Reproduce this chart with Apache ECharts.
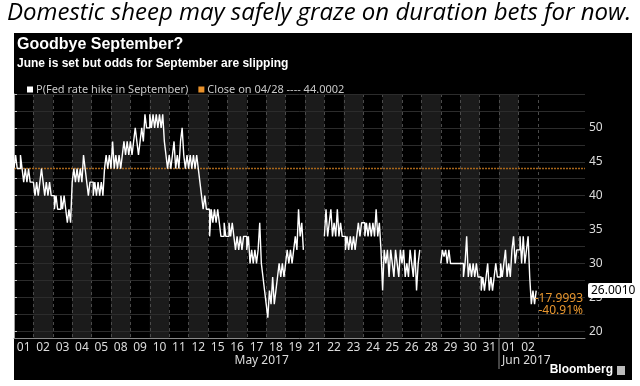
<!DOCTYPE html>
<html>
<head>
<meta charset="utf-8">
<script src="https://cdn.jsdelivr.net/npm/echarts@6/dist/echarts.min.js"></script>
<style>
  html, body { margin: 0; padding: 0; background: #fff; }
  #wrap { position: relative; width: 640px; height: 386px; }
  #panel { position: absolute; left: 14px; top: 33px; width: 618px; height: 347px; background: #000; }
  #chart { position: absolute; left: 0; top: 0; width: 640px; height: 386px; }
</style>
</head>
<body>
<div id="wrap">
  <div id="panel"></div>
  <div id="chart"></div>
</div>
<script>
// ---- data ----
const headline = 'Domestic sheep may safely graze on duration bets for now.';
const chartTitle = 'Goodbye September?';
const chartSubtitle = 'June is set but odds for September are slipping';
const seriesName = 'P(Fed rate hike in September)';
const dayLabels = ['01','02','03','04','05','08','09','10','11','12','15','16','17','18','19','21','22','23','24','25','26','28','29','30','31','01','02'];
const monthLabels = ['May 2017', 'Jun 2017'];
const closeValue = 44.0002;
const closeLabel = 'Close on 04/28';
const changeLabels = ['-17.9993', '-40.91%'];
const yTickLabels = [20, 25, 30, 35, 40, 45, 50];
const yTickMarks = [20, 22.5, 25, 27.5, 30, 32.5, 35, 37.5, 40, 42.5, 45, 47.5, 50, 52.5, 55];
// intraday readings of the probability (%) for each trading day; null = no data
const may01 = [44, 46, 44, 44, 46, 44, 42, 44, 42, 44, 42, 42];
const may02 = [42, 40, 42, 40, 42, 44, 42, 40, 42, 40, 42, 40];
const may03 = [40, 38, 40, 38, 38, 40, 38, 40, 38, 36, 38, 36];
const may04 = [42, 44, 42, 44, 42, 44, 42, 46, 44, 42, 40, 42];
const may05 = [42, 40, 42, 40, 42, 40, 42, 40, 44, 46, 44, 46];
const may08 = [44, 48, 44, 46, 44, 46, 44, 46, 48, 46, 48, 46];
const may09 = [48, 46, 48, 50, 48, 46, 48, 50, 48, 52, 50, 50];
const may10 = [52, 50, 52, 50, 52, 50, 52, 50, 52, 48, 46, 44];
const may11 = [46, 44, 46, 48, 44, 46, 44, 48, 50, 46, 44, 46];
const may12 = [44, 46, 44, 46, 44, 46, 44, 42, 40, 38, 40, 38];
const may15 = [38, 34, 38, 36, 38, 36, 38, 36, 34, 34, 36, 34];
const may16 = [34, 36, 34, 36, 34, 32, 34, 32, 34, 32, 34, 34];
const may17 = [32, 34, 30, 32, 30, 32, 30, 32, 36, 30, 28, 26];
const may18 = [24, 22, 26, 24, 28, 24, 26, 28, 30, 28, 30, 28];
const may19 = [30, 32, 30, 32, 30, 32, 34, 32, 38, 34, 36, 32];
const may21 = null;
const may22 = [34, 38, 34, 36, 38, 34, 36, 34, 38, 34, 36, 34];
const may23 = [34, 32, 34, 32, 34, 32, 34, 32, 34, 36, 34, 36];
const may24 = [36, 34, 36, 34, 36, 34, 36, 34, 38, 34, 36, 32];
const may25 = [26, 32, 30, 32, 28, 32, 30, 28, 32, 30, 28, 32];
const may26 = [30, 32, 28, 30, 28, 32, 30, 28, 32, 26, 30, 32];
const may28 = null;
const may29 = [30, 32, 31, 32, 30, 32, 30, 30, 30, 30, 30, 30];
const may30 = [30, 30, 28, 30, 34, 28, 30, 28, 30, 28, 30, 28];
const may31 = [28, 26, 28, 26, 28, 30, 26, 28, 26, 28, 30, 28];
const jun01 = [28, 30, 28, 30, 32, 28, 30, 28, 32, 34, 30, 32];
const jun02 = [32, 34, 30, 34, 30, 32, 34, 28, 24, 26, 24, 26.0010];
const dayValues = [may01, may02, may03, may04, may05, may08, may09, may10, may11, may12,
  may15, may16, may17, may18, may19, may21, may22, may23, may24, may25, may26, may28,
  may29, may30, may31, jun01, jun02];

// ---- build ----
const points = [];
let lastX = 0;
dayValues.forEach((vals, d) => {
  if (!vals) { points.push([lastX + 0.001, '-']); return; }
  vals.forEach((v, j) => { lastX = d + j / vals.length; points.push([lastX, v]); });
});
const lastValue = jun02[jun02.length - 1];

const L = 14, AXIS_X = 585, TOP = 94, BOTTOM_Y = 338;
const DAY_W = 19.4;
const nDays = dayLabels.length;
const xMax = (AXIS_X - L) / DAY_W;
const FONT = 'Noto Sans';

const chart = echarts.init(document.getElementById('chart'), null, { renderer: 'canvas' });
chart.setOption({
  backgroundColor: 'transparent',
  animation: false,
  title: [
    { text: headline, left: 7, top: 1, padding: 0, textStyle: { fontFamily: 'Open Sans', fontStyle: 'italic', fontWeight: 'normal', fontSize: 24, color: '#000' } },
    { text: chartTitle, left: 17, top: 37, padding: 0, textStyle: { fontFamily: 'Liberation Sans', fontWeight: 'bold', fontSize: 16, color: '#fff' } },
    { text: chartSubtitle, left: 17, top: 58, padding: 0, textStyle: { fontFamily: 'Liberation Sans', fontWeight: 'bold', fontSize: 12, color: '#fff' } }
  ],
  legend: {
    left: 22, top: 79, icon: 'rect', itemWidth: 6, itemHeight: 6, itemGap: 10,
    textStyle: { color: '#c8c8c8', fontSize: 11, fontFamily: FONT, padding: [0, 0, 0, -2] },
    data: [seriesName, closeLabel + ' ---- ' + closeValue.toFixed(4)]
  },
  grid: [
    { left: L, right: 640 - AXIS_X, top: TOP, bottom: 386 - BOTTOM_Y },
    { left: L, width: nDays * DAY_W, top: TOP, bottom: 386 - BOTTOM_Y }
  ],
  xAxis: [
    { type: 'value', gridIndex: 0, min: 0, max: xMax, z: 2,
      axisLine: { show: true, lineStyle: { color: '#8a8a8a', width: 1 } },
      axisTick: { show: false }, axisLabel: { show: false }, splitLine: { show: false } },
    { type: 'category', gridIndex: 1, data: dayLabels, boundaryGap: true, z: 0,
      axisLine: { show: false }, axisTick: { show: false },
      axisLabel: { interval: 0, color: '#dcdcdc', fontSize: 12, fontFamily: FONT, margin: 4 },
      splitLine: { show: true, interval: 0, lineStyle: { color: '#4a4a4a', type: [3, 3], width: 1 } },
      splitArea: { show: true, interval: 0, areaStyle: { color: ['rgba(0,0,0,0)', '#1b1b1b'] } } }
  ],
  yAxis: [
    { type: 'value', gridIndex: 0, position: 'right', min: 19, max: 55, splitNumber: 7, z: 1,
      axisLine: { show: true, lineStyle: { color: '#a0a0a0', width: 1 } },
      axisTick: { show: true, length: 3, customValues: yTickMarks, lineStyle: { color: '#c0c0c0' } },
      axisLabel: { customValues: yTickLabels, color: '#dcdcdc', fontSize: 12, fontFamily: FONT, margin: 4 },
      splitLine: { show: true, lineStyle: { color: '#2c2c2c', width: 1 } } },
    { type: 'value', gridIndex: 1, min: 0, max: 1, show: false }
  ],
  series: [
    { name: closeLabel + ' ---- ' + closeValue.toFixed(4), type: 'line', xAxisIndex: 0, yAxisIndex: 0,
      color: '#e8912b', showSymbol: false, silent: true, z: 3,
      lineStyle: { color: '#a8661a', width: 1.5, type: [2, 1] },
      data: [[0, closeValue], [xMax, closeValue]] },
    { name: seriesName, type: 'line', xAxisIndex: 0, yAxisIndex: 0, step: 'end',
      color: '#ffffff', showSymbol: false, connectNulls: false, z: 4,
      lineStyle: { color: '#ffffff', width: 1.4 },
      data: points,
      markLine: {
        silent: true, symbol: 'none', animation: false,
        lineStyle: { color: 'rgba(0,0,0,0)', width: 1, type: 'solid' },
        data: [
          { yAxis: lastValue, label: { show: true, position: 'end', distance: 3, formatter: lastValue.toFixed(4),
              backgroundColor: '#ffffff', color: '#000', padding: [2, 3, 1, 3], borderRadius: 2,
              fontSize: 12, fontFamily: FONT } },
          { yAxis: lastValue, label: { show: true, position: 'insideEndBottom', distance: 2,
              formatter: changeLabels.join('\n'), color: '#e8962e', fontSize: 12, lineHeight: 12, fontFamily: FONT } }
        ]
      } }
  ],
  graphic: [
    { type: 'text', left: L + 12.5 * DAY_W - 22, top: 355,
      style: { text: monthLabels[0], fill: '#dcdcdc', font: '12px "Noto Sans"' } },
    { type: 'text', left: L + 25 * DAY_W + 3, top: 355,
      style: { text: monthLabels[1], fill: '#dcdcdc', font: '12px "Noto Sans"' } },
    { type: 'line', shape: { x1: L + 25 * DAY_W, y1: BOTTOM_Y, x2: L + 25 * DAY_W, y2: 369 },
      style: { stroke: '#8a8a8a', lineWidth: 1 } },
    { type: 'text', right: 640 - 613, top: 364,
      style: { text: 'Bloomberg', fill: '#fff', font: 'bold 12px "Liberation Sans"' } },
    { type: 'rect', shape: { x: 617, y: 366, width: 8, height: 9 }, style: { fill: '#bbb' } }
  ]
});
</script>
</body>
</html>
